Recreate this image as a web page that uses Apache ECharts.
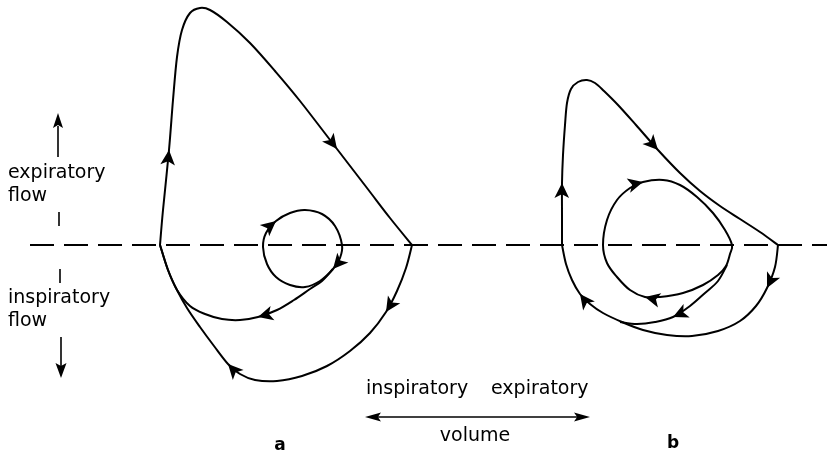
<!DOCTYPE html>
<html>
<head>
<meta charset="utf-8">
<script src="https://cdn.jsdelivr.net/npm/echarts@6/dist/echarts.min.js"></script>
<style>
  html, body { margin: 0; padding: 0; background: #fff; }
  #chart { width: 827px; height: 457px; }
</style>
</head>
<body>
<div id="chart"></div>
<script>
// Flow-volume loops: [volume, flow]; flow > 0 is expiratory, flow < 0 inspiratory.

// Loop a: forced expiration (up the left, peak flow, down to residual volume)
const loopAExpiration = [
  [160, 0], [163, 35], [169, 95], [173, 145], [177, 188], [182, 215],
  [190, 232], [200, 237], [210, 235], [227, 223], [250, 202], [275, 174],
  [300, 144], [337, 96], [367, 57], [390, 27], [412, 0]
];
const arrowsAExpiration = [2, 13];

// Loop a: forced inspiration back along the bottom
const loopAInspiration = [
  [412, 0], [406, -23], [397, -46], [386, -67], [370, -88], [350, -106],
  [327, -121], [302, -131], [277, -136], [255, -135], [240, -129], [228, -119],
  [214, -101], [200, -82], [187, -63], [177, -45], [168, -25], [160, 0]
];
const arrowsAInspiration = [3, 11];

// Loop a: tidal breathing loop (closed)
const loopATidal = [
  [263, -2], [266, 12], [276, 24], [290, 32], [305, 35], [322, 31], [335, 19],
  [342, 0], [340, -13], [333, -24], [320, -36], [305, -42], [290, -40],
  [276, -32], [267, -19]
];
const arrowsATidal = [2, 9];

// Loop a: path from the tidal loop into the forced manoeuvre
const loopATail = [
  [333, -24], [322, -36], [310, -44], [294, -55], [277, -65], [258, -72],
  [240, -75], [222, -74], [205, -69], [190, -61], [177, -45], [168, -25],
  [160, 0]
];
const arrowsATail = [5];

// Loop b: forced expiration
const loopBExpiration = [
  [562, 0], [562, 30], [562, 62], [563, 90], [565, 120], [567, 142], [571, 156],
  [578, 163], [587, 165], [595, 162], [604, 154], [618, 140], [636, 120],
  [658, 95], [680, 72], [700, 54], [720, 39], [740, 26], [760, 13], [778, 0]
];
const arrowsBExpiration = [2, 13];

// Loop b: forced inspiration
const loopBInspiration = [
  [778, 0], [775, -22], [767, -43], [756, -61], [740, -76], [718, -86],
  [692, -91], [667, -90], [643, -85], [622, -77], [603, -68], [590, -59],
  [580, -49], [572, -35], [566, -19], [562, 0]
];
const arrowsBInspiration = [2, 12];

// Loop b: tidal breathing loop (closed)
const loopBTidal = [
  [603, 0], [607, 25], [617, 45], [630, 57], [643, 63], [663, 65], [680, 60],
  [697, 48], [713, 32], [725, 15], [732, 0], [730, -9], [726, -21], [718, -30],
  [703, -40], [683, -48], [660, -52], [645, -52], [630, -45], [617, -32],
  [607, -18]
];
const arrowsBTidal = [4, 17];

// Loop b: path from the tidal loop into the forced inspiration
const loopBTail = [
  [727, -20], [718, -36], [705, -48], [690, -61], [673, -72], [655, -77],
  [637, -79], [620, -77]
];
const arrowsBTail = [4];

// Zero-flow reference line
const zeroFlowLine = [[30, 0], [827, 0]];

const curves = [
  { pts: loopAExpiration, arrows: arrowsAExpiration },
  { pts: loopAInspiration, arrows: arrowsAInspiration },
  { pts: loopATidal, arrows: arrowsATidal, closed: true },
  { pts: loopATail, arrows: arrowsATail },
  { pts: loopBExpiration, arrows: arrowsBExpiration },
  { pts: loopBInspiration, arrows: arrowsBInspiration },
  { pts: loopBTidal, arrows: arrowsBTidal, closed: true },
  { pts: loopBTail, arrows: arrowsBTail }
];

const INK = '#000';
const FONT = '"DejaVu Sans", "Liberation Sans", sans-serif';

// Catmull-Rom spline through pixel points, written as cubic Bezier path data
function splinePath(p, closed) {
  const n = p.length;
  const at = i => closed ? p[(i + n) % n] : p[Math.max(0, Math.min(n - 1, i))];
  const f = v => v.toFixed(2);
  let d = 'M' + f(p[0][0]) + ' ' + f(p[0][1]);
  const last = closed ? n : n - 1;
  for (let i = 0; i < last; i++) {
    const p0 = at(i - 1), p1 = at(i), p2 = at(i + 1), p3 = at(i + 2);
    const c1 = [p1[0] + (p2[0] - p0[0]) / 6, p1[1] + (p2[1] - p0[1]) / 6];
    const c2 = [p2[0] - (p3[0] - p1[0]) / 6, p2[1] - (p3[1] - p1[1]) / 6];
    d += ' C' + f(c1[0]) + ' ' + f(c1[1]) + ' ' + f(c2[0]) + ' ' + f(c2[1]) +
         ' ' + f(p2[0]) + ' ' + f(p2[1]);
  }
  return d;
}

const series = [{
  type: 'line',
  data: zeroFlowLine,
  symbol: 'none',
  lineStyle: { color: INK, width: 2, type: [24, 10] },
  silent: true,
  z: 1
}];

const arrowData = [];
curves.forEach(({ pts, arrows, closed }) => {
  series.push({
    type: 'custom',
    coordinateSystem: 'cartesian2d',
    data: pts,
    encode: { x: 0, y: 1 },
    silent: true,
    z: 2,
    renderItem: (params, api) => {
      if (params.dataIndex !== 0) return null;
      const px = pts.map(v => api.coord(v));
      return {
        type: 'path',
        shape: { pathData: splinePath(px, closed) },
        style: { stroke: INK, lineWidth: 2, fill: 'none' }
      };
    }
  });
  const n = pts.length;
  arrows.forEach(i => {
    const a = closed ? pts[(i - 1 + n) % n] : pts[Math.max(i - 1, 0)];
    const b = closed ? pts[(i + 1) % n] : pts[Math.min(i + 1, n - 1)];
    const ang = Math.atan2(b[1] - a[1], b[0] - a[0]) * 180 / Math.PI;
    arrowData.push({ value: pts[i], symbolRotate: ang - 90 });
  });
});

series.push({
  type: 'scatter',
  data: arrowData,
  symbol: 'arrow',
  symbolSize: [11, 15],
  itemStyle: { color: INK, opacity: 1 },
  silent: true,
  z: 3
});

function head(tip, dir, len, half) {
  // dir: unit vector pointing toward the tip
  const bx = tip[0] - dir[0] * len, by = tip[1] - dir[1] * len;
  const nx = -dir[1], ny = dir[0];
  return {
    type: 'polygon',
    shape: { points: [tip, [bx + nx * half, by + ny * half],
      [tip[0] - dir[0] * len * 0.8, tip[1] - dir[1] * len * 0.8],
      [bx - nx * half, by - ny * half]] },
    style: { fill: INK }
  };
}
function seg(x1, y1, x2, y2) {
  return { type: 'line', shape: { x1, y1, x2, y2 }, style: { stroke: INK, lineWidth: 1.6 } };
}
function label(text, x, y, opts) {
  return {
    type: 'text',
    style: Object.assign({
      text, x, y, fill: INK, font: '19px ' + FONT,
      textAlign: 'left', textVerticalAlign: 'middle'
    }, opts || {})
  };
}

const chart = echarts.init(document.getElementById('chart'), null, { renderer: 'canvas' });
chart.setOption({
  backgroundColor: '#fff',
  animation: false,
  grid: { left: 0, right: 0, top: 0, bottom: 0 },
  xAxis: { type: 'value', min: 0, max: 827, show: false },
  yAxis: { type: 'value', min: -212, max: 245, show: false },
  series,
  graphic: [
    // flow axis indicator
    seg(58, 126, 58, 157),
    head([58, 113], [0, -1], 15, 5),
    seg(59, 212, 59, 226),
    label('expiratory', 8, 173),
    label('flow', 8, 196),
    seg(60, 269, 60, 283),
    label('inspiratory', 8, 298),
    label('flow', 8, 321),
    seg(61, 337, 61, 366),
    head([61, 378], [0, 1], 15, 5.5),
    // volume axis indicator
    seg(372, 417, 583, 417),
    head([365, 417], [-1, 0], 16, 4.5),
    head([590, 417], [1, 0], 16, 4.5),
    label('inspiratory', 366, 389),
    label('expiratory', 491, 389),
    label('volume', 475, 436, { textAlign: 'center' }),
    // panel labels
    label('a', 280, 446, { textAlign: 'center', font: 'bold 17px ' + FONT }),
    label('b', 673, 444, { textAlign: 'center', font: 'bold 17px ' + FONT })
  ]
});
</script>
</body>
</html>
